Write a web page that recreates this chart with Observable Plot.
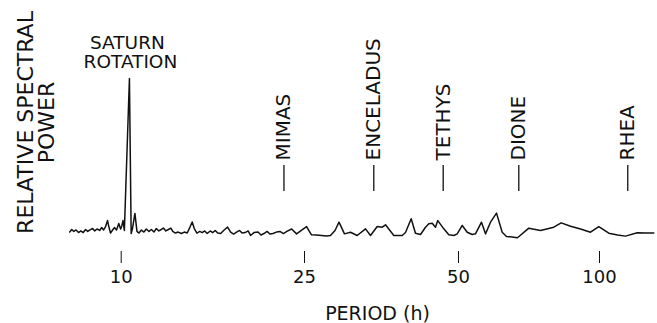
<!DOCTYPE html>
<html>
<head>
<meta charset="utf-8">
<script src="https://cdn.jsdelivr.net/npm/d3@7"></script>
<script src="https://cdn.jsdelivr.net/npm/@observablehq/plot@0.6"></script>
<style>
  html, body { margin: 0; padding: 0; background: #fff; }
  #chart { width: 657px; height: 323px; }
</style>
</head>
<body>
<div id="chart"></div>
<script>
// Period (h) of each sample of the power spectrum
const periods = [
  7.73, 7.81, 7.89, 7.98, 8.08, 8.17, 8.27, 8.37, 8.46, 8.56,
  8.67, 8.76, 8.86, 8.98, 9.07, 9.16, 9.25, 9.34, 9.41, 9.48,
  9.58, 9.67, 9.77, 9.88, 9.97, 10.03, 10.09, 10.16, 10.42, 10.51,
  10.58, 10.71, 10.82, 10.93, 11.06, 11.20, 11.34, 11.49, 11.63, 11.78,
  11.92, 12.07, 12.22, 12.35, 12.50, 12.66, 12.82, 12.94, 13.11, 13.30,
  13.50, 13.71, 13.91, 14.12, 14.26, 14.41, 14.60, 14.81, 14.99, 15.18,
  15.37, 15.60, 15.80, 16.00, 16.20, 16.44, 16.73, 17.02, 17.28, 17.54,
  17.80, 18.07, 18.30, 18.58, 18.86, 19.09, 19.42, 19.82, 20.11, 20.42,
  20.73, 21.03, 21.35, 21.73, 22.11, 22.50, 22.89, 23.44, 24.03, 24.61,
  25.23, 25.80, 26.39, 26.99, 27.60, 28.10, 28.68, 29.20, 29.93, 30.75,
  31.69, 32.90, 33.65, 34.68, 35.47, 36.00, 37.37, 38.81, 39.39, 40.41,
  41.20, 42.14, 43.10, 43.75, 44.42, 45.08, 45.55, 46.80, 47.87, 48.96,
  49.71, 50.92, 52.19, 53.48, 54.35, 55.98, 57.10, 58.52, 60.27, 61.98,
  63.30, 65.62, 66.82, 70.64, 74.83, 79.88, 82.84, 86.72, 91.09, 95.67,
  99.66, 104.68, 109.25, 113.64, 120.36, 125.37, 130.59
];
// Relative spectral power at each period (peak = 100)
const power = [
  5.2, 6.8, 5.6, 6.5, 4.9, 5.9, 4.9, 6.8, 5.6, 6.5,
  7.4, 5.9, 7.1, 6.2, 8.0, 6.5, 8.6, 12.3, 8.0, 4.6,
  6.5, 8.0, 6.5, 10.5, 7.1, 9.0, 12.3, 6.2, 100, 4.3,
  7.4, 16.7, 5.6, 4.6, 6.5, 5.2, 7.1, 5.6, 6.8, 5.2,
  7.4, 5.9, 6.8, 7.7, 5.9, 6.8, 7.7, 5.6, 4.6, 5.2,
  4.3, 5.2, 4.6, 8.6, 11.4, 7.4, 4.6, 5.6, 4.9, 5.9,
  4.3, 5.9, 4.9, 6.2, 4.6, 4.3, 6.5, 8.3, 5.2, 4.0,
  5.2, 6.2, 4.6, 4.9, 5.9, 3.1, 4.9, 5.2, 3.4, 4.3,
  5.6, 4.0, 4.3, 5.2, 5.6, 4.3, 5.6, 7.1, 4.1, 6.2,
  8.6, 3.5, 3.4, 3.1, 2.8, 3.1, 6.2, 11.3, 4.1, 5.1,
  3.1, 7.2, 3.1, 8.6, 8.2, 9.7, 3.1, 3.1, 4.9, 13.4,
  4.5, 3.7, 8.2, 10.3, 10.7, 8.2, 12.3, 7.2, 3.5, 3.1,
  4.1, 9.3, 5.1, 3.7, 4.1, 11.3, 4.1, 11.3, 16.9, 5.1,
  2.5, 2.0, 1.7, 7.6, 6.2, 8.2, 10.9, 8.8, 7.1, 5.1,
  8.6, 4.5, 3.4, 2.7, 4.8, 4.6, 4.6
];

const xTicks = [10, 25, 50, 100];
const xTickLabels = ["10", "25", "50", "100"];

const moonNames = ["MIMAS", "ENCELADUS", "TETHYS", "DIONE", "RHEA"];
const moonPeriods = [22.56, 34.15, 46.67, 67.25, 114.9];

const peakLines = ["SATURN", "ROTATION"];
const peakPeriod = 10.42;

const yLabel = "RELATIVE SPECTRAL\nPOWER";
const xLabel = "PERIOD (h)";

// ---- build tables ----
const spectrum = periods.map((p, i) => ({period: p, power: power[i]}));
const moons = moonNames.map((n, i) => ({name: n, period: moonPeriods[i]}));

// label placement (in power units)
const moonTextY = 49.4;
const moonTickTop = 46.3;
const moonTickBottom = 30.2;

const ink = "#111";

const chart = Plot.plot({
  width: 657,
  height: 323,
  marginTop: 0,
  marginLeft: 0,
  marginRight: 0,
  marginBottom: 72,
  style: {fontFamily: "'DejaVu Sans', sans-serif", fontSize: "18px", color: ink, background: "#fff"},
  x: {
    type: "log",
    domain: xTicks,
    range: [120.7, 304, 458, 599],
    ticks: xTicks,
    tickFormat: (d) => xTickLabels[xTicks.indexOf(d)],
    tickSize: 12,
    tickPadding: 7,
    label: null
  },
  y: {domain: [0, 100], range: [240, 78], axis: null},
  marks: [
    Plot.line(spectrum, {x: "period", y: "power", stroke: ink, strokeWidth: 1.5}),
    Plot.ruleX(moons, {x: "period", y1: () => moonTickTop, y2: () => moonTickBottom, stroke: ink, strokeWidth: 1.3}),
    Plot.text(moons, {
      x: "period", y: () => moonTextY, text: "name",
      rotate: -90, textAnchor: "start", lineAnchor: "middle",
      fontSize: 20, fill: ink
    }),
    Plot.text([peakLines[0]], {
      x: () => peakPeriod, frameAnchor: "top", dx: -2, dy: 35,
      text: (d) => d, lineAnchor: "top",
      fontSize: 18.5, fill: ink
    }),
    Plot.text([peakLines[1]], {
      x: () => peakPeriod, frameAnchor: "top", dx: 1, dy: 54.5,
      text: (d) => d, lineAnchor: "top",
      fontSize: 18.5, fill: ink
    }),
    Plot.text([yLabel], {
      frameAnchor: "left", dx: 36, dy: -3.5,
      text: (d) => d, rotate: -90, textAnchor: "middle", lineAnchor: "middle",
      lineHeight: 0.96, fontSize: 22, fill: ink
    }),
    Plot.text([xLabel], {
      frameAnchor: "bottom", dx: 48.5, dy: 62,
      text: (d) => d, lineAnchor: "middle",
      fontSize: 19, fill: ink
    })
  ]
});

document.getElementById("chart").appendChild(chart);
</script>
</body>
</html>
